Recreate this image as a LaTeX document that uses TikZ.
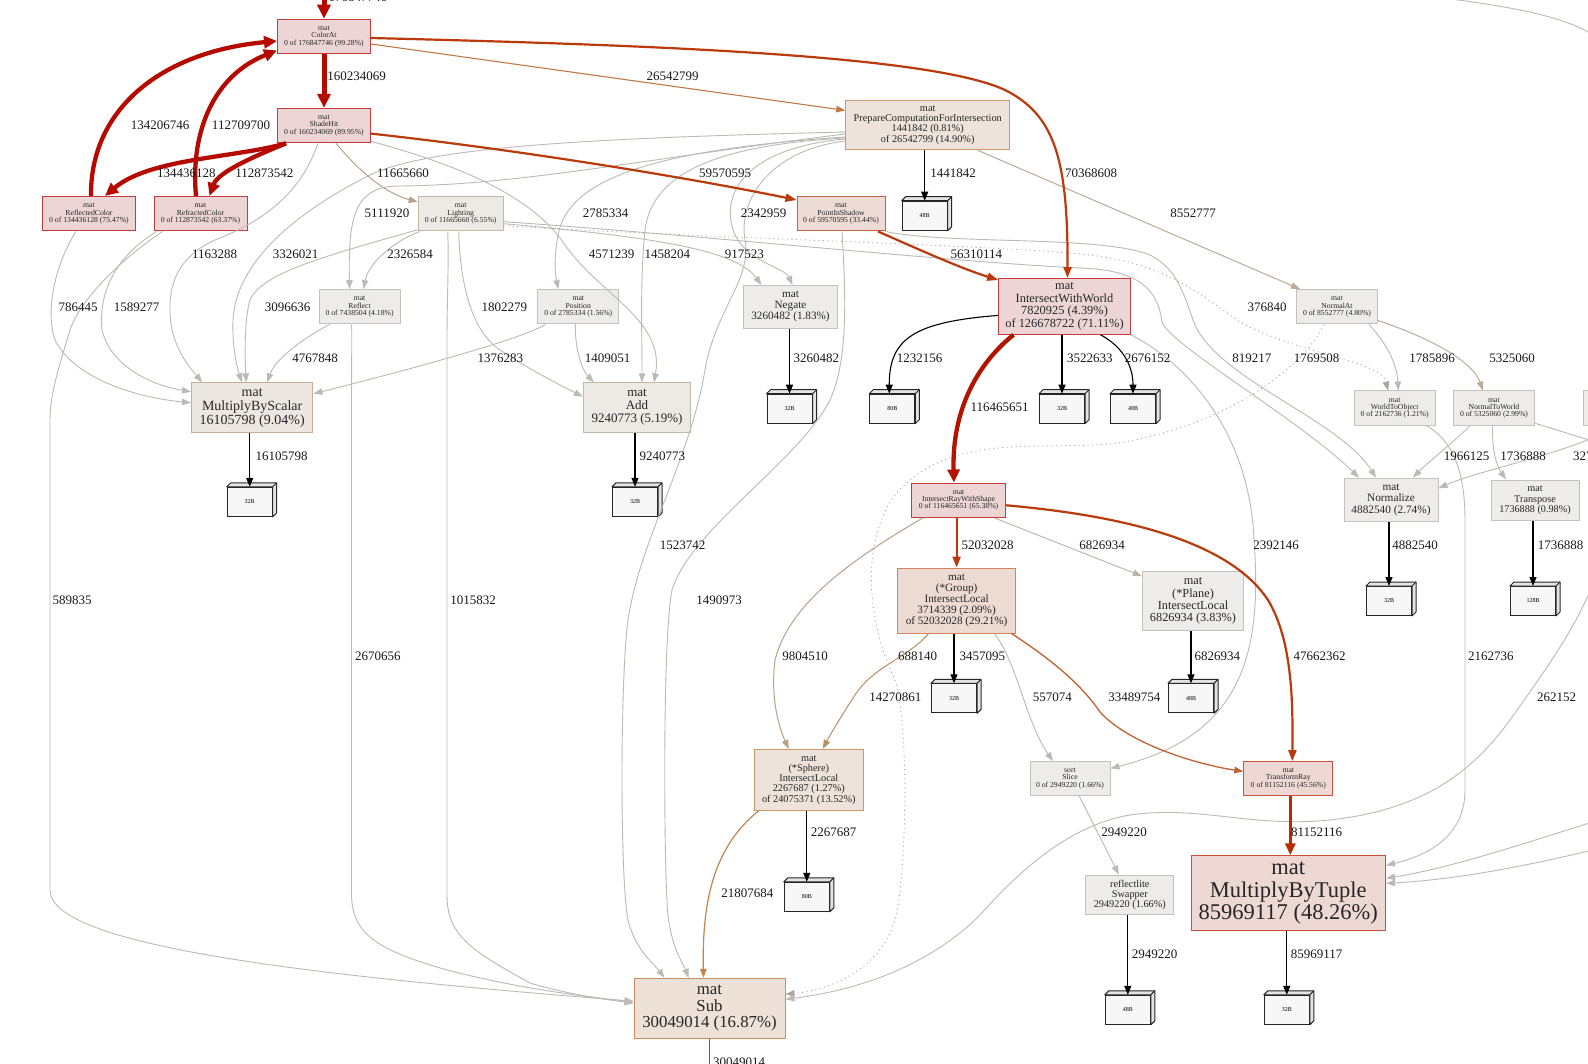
\documentclass[tikz,border=0pt]{standalone}
\usepackage{fontspec}
\setmainfont{Liberation Serif}
\usetikzlibrary{arrows.meta,calc}
\newcommand{\fsz}[2]{\fontsize{#1}{#2}\selectfont}
\definecolor{fR}{HTML}{EDD5D5}\definecolor{dR}{HTML}{C53A3A}
\definecolor{fO}{HTML}{EDD8D3}\definecolor{dO}{HTML}{C9513A}
\definecolor{fP}{HTML}{EDDBD5}\definecolor{dP}{HTML}{C9603F}
\definecolor{fGp}{HTML}{EDDBD3}\definecolor{dGp}{HTML}{D3835B}
\definecolor{fS}{HTML}{EDE1D8}\definecolor{dS}{HTML}{CB8B5A}
\definecolor{fC}{HTML}{EDE3DB}\definecolor{dC}{HTML}{CB9A68}
\definecolor{fT}{HTML}{EDE7E1}\definecolor{dT}{HTML}{C9AE92}
\definecolor{fL}{HTML}{EDEAE6}\definecolor{dL}{HTML}{C4B9A8}
\definecolor{fY}{HTML}{EDECEA}\definecolor{dY}{HTML}{C6C2BB}
\definecolor{memfill}{HTML}{F7F7F7}\definecolor{memside}{HTML}{E4E4E4}
\definecolor{cR0}{HTML}{B50A00}\definecolor{cR3}{HTML}{B31400}
\definecolor{cR4}{HTML}{B82C00}\definecolor{cR2}{HTML}{BA3A0C}
\definecolor{cO1}{HTML}{C17A45}\definecolor{cO2}{HTML}{C4602F}
\definecolor{cO3}{HTML}{C4834F}\definecolor{cT0}{HTML}{B98E62}
\definecolor{cT1}{HTML}{B9A186}\definecolor{cT2}{HTML}{BCAC95}
\definecolor{cT3}{HTML}{BCB3A5}\definecolor{cG}{HTML}{BDB9B3}
\definecolor{cD}{HTML}{A9A5A0}
\tikzset{
 nbox/.style={rectangle, align=center, inner sep=0pt, line width=1pt, text=black!85},
 nR/.style={nbox, fill=fR, draw=dR},
 nO/.style={nbox, fill=fO, draw=dO},
 nP/.style={nbox, fill=fP, draw=dP},
 nG/.style={nbox, fill=fGp, draw=dGp},
 nS/.style={nbox, fill=fS, draw=dS},
 nC/.style={nbox, fill=fC, draw=dC},
 nT/.style={nbox, fill=fT, draw=dT},
 nL/.style={nbox, fill=fL, draw=dL},
 nY/.style={nbox, fill=fY, draw=dY},
 memf/.style={rectangle, draw=black!85, fill=memfill, line width=1pt, minimum width=45pt, minimum height=29pt, inner sep=0pt, font={\fsz{6}{6}}},
 membd/.style={draw=black!85, fill=memside, line width=1pt, line join=round},
 lbl/.style={inner sep=0pt, font={\fsz{13}{13}}, text=black!90},
 tipS/.style={-{Triangle[length=9pt,width=6.5pt]}},
 eG/.style={draw=cG, line width=0.9pt, tipS},
 eGn/.style={draw=cG, line width=0.9pt},
 eDot/.style={draw=cD, line width=0.9pt, dash pattern=on 1pt off 3.5pt, tipS},
 eK/.style={draw=black, line width=1.1pt, -{Triangle[length=9pt,width=7pt]}},
 eKn/.style={draw=black!65, line width=1.1pt},
 eT0/.style={draw=cT0, line width=1pt, tipS},
 eT1/.style={draw=cT1, line width=1pt, tipS},
 eT2/.style={draw=cT2, line width=1pt, tipS},
 eT3/.style={draw=cT3, line width=0.9pt, tipS},
 eO1/.style={draw=cO1, line width=1.1pt, tipS},
 eO2/.style={draw=cO2, line width=1.3pt, tipS},
 eO3/.style={draw=cO3, line width=1.2pt, tipS},
 eR0/.style={draw=cR0, line width=5pt, -{Triangle[length=14pt,width=13pt]}},
 eR1/.style={draw=cR0, line width=4.3pt, -{Triangle[length=13pt,width=12pt]}},
 eR3/.style={draw=cR3, line width=4.3pt, -{Triangle[length=13pt,width=12pt]}},
 eR4/.style={draw=cR4, line width=3.5pt, -{Triangle[length=12pt,width=10pt]}},
 eR2/.style={draw=cR2, line width=2.2pt, -{Triangle[length=11pt,width=8pt]}},
}
\newcommand{\membx}[4]{%
  \node[memf] (#1) at ({#2-2},{#3+2}) {#4};
  \filldraw[membd] (#1.north west) -- ++(4pt,4pt) -- ([shift={(4pt,4pt)}]#1.north east) -- ([shift={(4pt,4pt)}]#1.south east) -- (#1.south east) -- (#1.north east) -- cycle;
  \draw[membd] (#1.north east) -- ++(4pt,4pt);
}
\begin{document}
\begin{tikzpicture}[x=1pt,y=-1pt]
\useasboundingbox (0,0) rectangle (1588,1064);
\fill[white] (0,0) rectangle (1588,1064);
\clip (0,0) rectangle (1588,1064);

% ---------------- nodes ----------------
\node[nR, minimum width=93, minimum height=34.5, font={\fsz{7.7}{7.3}}] (ColorAt) at (324,36.5) {mat\\ColorAt\\0 of 176847746 (99.28\%)};
\node[nR, minimum width=93, minimum height=34.5, font={\fsz{7.7}{7.3}}] (ShadeHit) at (324,125.6) {mat\\ShadeHit\\0 of 160234069 (89.95\%)};
\node[nR, minimum width=93, minimum height=34.5, font={\fsz{7.7}{7.3}}] (Reflected) at (89,213.7) {mat\\ReflectedColor\\0 of 134436128 (75.47\%)};
\node[nR, minimum width=93, minimum height=34.5, font={\fsz{7.7}{7.3}}] (Refracted) at (200.5,213.7) {mat\\RefractedColor\\0 of 112873542 (63.37\%)};
\node[nL, minimum width=85, minimum height=34.5, font={\fsz{7.7}{7.3}}] (Lighting) at (460.7,213.7) {mat\\Lighting\\0 of 11665660 (6.55\%)};
\node[nC, minimum width=164, minimum height=49.6, font={\fsz{10.3}{10.3}}] (Prepare) at (927.7,125) {mat\\PrepareComputationForIntersection\\1441842 (0.81\%)\\of 26542799 (14.90\%)};
\node[nP, minimum width=88, minimum height=34.5, font={\fsz{7.7}{7.3}}] (Shadow) at (841,213.7) {mat\\PointInShadow\\0 of 59570595 (33.44\%)};
\node[nY, minimum width=81, minimum height=34.4, font={\fsz{7.7}{7.3}}] (Reflect) at (359.6,306.8) {mat\\Reflect\\0 of 7438504 (4.18\%)};
\node[nY, minimum width=81, minimum height=34.4, font={\fsz{7.7}{7.3}}] (Position) at (578.3,306.8) {mat\\Position\\0 of 2785334 (1.56\%)};
\node[nY, minimum width=94, minimum height=42.5, font={\fsz{11.2}{11.2}}] (Negate) at (790.5,306.8) {mat\\Negate\\3260482 (1.83\%)};
\node[nR, minimum width=131.7, minimum height=55.7, font={\fsz{12.4}{12.4}}] (IWW) at (1064.5,306.4) {mat\\IntersectWithWorld\\7820925 (4.39\%)\\of 126678722 (71.11\%)};
\node[nY, minimum width=81, minimum height=34.4, font={\fsz{7.7}{7.3}}] (NormalAt) at (1337,306.8) {mat\\NormalAt\\0 of 8552777 (4.80\%)};
\node[nT, minimum width=121.5, minimum height=49.6, font={\fsz{14}{14}}] (MBS) at (252.2,407.7) {mat\\MultiplyByScalar\\16105798 (9.04\%)};
\node[nL, minimum width=107.3, minimum height=49.6, font={\fsz{13}{13}}] (Add) at (637,407.7) {mat\\Add\\9240773 (5.19\%)};
\node[nY, minimum width=81, minimum height=34.4, font={\fsz{7.7}{7.3}}] (WTO) at (1394.7,408.2) {mat\\WorldToObject\\0 of 2162736 (1.21\%)};
\node[nY, minimum width=81, minimum height=34.4, font={\fsz{7.7}{7.3}}] (NTW) at (1494,408.2) {mat\\NormalToWorld\\0 of 5325060 (2.99\%)};
\node[nY, minimum width=81, minimum height=34.4] (Partial) at (1623.5,408.2) {};
\node[nR, minimum width=94, minimum height=34.5, font={\fsz{7.7}{7.3}}] (IRWS) at (958.6,500.3) {mat\\IntersectRayWithShape\\0 of 116465651 (65.38\%)};
\node[nY, minimum width=94, minimum height=43.6, font={\fsz{11.3}{11.3}}] (Normalize) at (1391,500) {mat\\Normalize\\4882540 (2.74\%)};
\node[nY, minimum width=88, minimum height=40.5, font={\fsz{10.2}{10.2}}] (Transpose) at (1535,500.3) {mat\\Transpose\\1736888 (0.98\%)};
\node[nG, minimum width=118.5, minimum height=65, font={\fsz{11.2}{11.2}}] (Group) at (956.6,600.6) {mat\\(*Group)\\IntersectLocal\\3714339 (2.09\%)\\of 52032028 (29.21\%)};
\node[nY, minimum width=101.3, minimum height=59.8, font={\fsz{12.3}{12.3}}] (Plane) at (1193,601) {mat\\(*Plane)\\IntersectLocal\\6826934 (3.83\%)};
\node[nC, minimum width=108.4, minimum height=60.8, font={\fsz{10.3}{10.3}}] (Sphere) at (808.8,779.8) {mat\\(*Sphere)\\IntersectLocal\\2267687 (1.27\%)\\of 24075371 (13.52\%)};
\node[nY, minimum width=80, minimum height=33.4, font={\fsz{7.7}{7.3}}] (Slice) at (1070,778.4) {sort\\Slice\\0 of 2949220 (1.66\%)};
\node[nO, minimum width=89, minimum height=33.4, font={\fsz{7.7}{7.3}}] (TRay) at (1288.3,778.4) {mat\\TransformRay\\0 of 81152116 (45.56\%)};
\node[nY, minimum width=88, minimum height=39.5, font={\fsz{10.3}{10.3}}] (Swapper) at (1129.8,894.8) {reflectlite\\Swapper\\2949220 (1.66\%)};
\node[nO, minimum width=194.5, minimum height=75, font={\fsz{22.5}{22.5}}] (MBT) at (1288.3,893.3) {mat\\MultiplyByTuple\\85969117 (48.26\%)};
\node[nS, minimum width=151, minimum height=59.8, font={\fsz{16.8}{16.8}}] (Sub) at (709.5,1008.2) {mat\\Sub\\30049014 (16.87\%)};

\membx{B48a}{926.7}{213.7}{48B}
\membx{B32mbs}{251.7}{499.8}{32B}
\membx{B32add}{637}{499.8}{32B}
\membx{B32neg}{791.5}{406.7}{32B}
\membx{B80iww}{894.3}{406.7}{80B}
\membx{B32iww}{1064}{406.7}{32B}
\membx{B48iww}{1135}{406.7}{48B}
\membx{B32norm}{1391}{599}{32B}
\membx{B128}{1535}{599}{128B}
\membx{B32grp}{956}{696.3}{32B}
\membx{B48plane}{1193}{696.3}{48B}
\membx{B80sph}{808.8}{894.8}{80B}
\membx{B48swap}{1129.8}{1007.8}{48B}
\membx{B32mbt}{1288.8}{1007.8}{32B}

\coordinate (topsrc) at (324,-20);
\coordinate (subout) at (709.5,1085);
\coordinate (offR1) at (1605,445);
\coordinate (offR2) at (1605,432);
\coordinate (offR3) at (1605,818);
\coordinate (offR4) at (1605,847);
\coordinate (offR5) at (1610,530);
\coordinate (trA) at (1420,-5);
\coordinate (trB) at (1600,40);

% ---------------- gray / light edges (drawn first) ----------------
\draw[eGn] (trA) .. controls (1500,5) and (1570,15) .. (trB);
\draw[eG] ([xshift=-13pt]Reflected.south) .. controls (55,265) and (45,310) .. (55,340) .. controls (75,380) and (140,398) .. ([yshift=5pt]MBS.west);
\draw[eG] ([xshift=-44pt]Refracted.south) .. controls (118,255) and (98,290) .. (102,330) .. controls (110,365) and (150,385) .. ([yshift=16pt]MBS.west);
\draw[eG] ([xshift=-38pt]Refracted.south) .. controls (120,260) and (80,300) .. (70,330) .. controls (58,370) and (50,395) .. (50,420) -- (50,890) .. controls (50,945) and (300,975) .. ([yshift=7pt]Sub.west);
\draw[eG] ([xshift=-6pt]ShadeHit.south) .. controls (305,180) and (280,215) .. (215,240) .. controls (175,258) and (165,290) .. (172,330) .. controls (178,355) and (192,370) .. ([xshift=-50pt]MBS.north);
\draw[eG] ([yshift=-7pt]Prepare.west) .. controls (600,138) and (430,146) .. (370,175) .. controls (300,210) and (236,260) .. (233,320) .. controls (232,350) and (238,370) .. ([xshift=-10.5pt]MBS.north);
\draw[eG] ([yshift=-16pt]Lighting.west) .. controls (330,255) and (262,272) .. (250,300) .. controls (244,320) and (245,360) .. ([xshift=-6pt]MBS.north);
\draw[eG] ([xshift=2pt]Lighting.south west) .. controls (390,243) and (368,265) .. ([xshift=4pt]Reflect.north);
\draw[eG] ([yshift=-9pt]Prepare.west) .. controls (650,158) and (520,185) .. (400,186) .. controls (355,186) and (348,215) .. ([xshift=-10pt]Reflect.north);
\draw[eG] ([xshift=-30pt]Reflect.south) .. controls (300,340) and (275,360) .. ([xshift=15pt]MBS.north);
\draw[eG] ([xshift=-8pt]Reflect.south) .. controls (352,340) and (351.5,360) .. (351.5,400) -- (351.5,895) .. controls (352,935) and (380,950) .. (440,968) .. controls (520,990) and (600,998) .. ([yshift=6pt]Sub.west);
\draw[eG] ([xshift=-13pt]Lighting.south) .. controls (449,260) and (447,300) .. (447,340) -- (447,895) .. controls (447,935) and (470,950) .. (530,983) .. controls (570,995) and (610,1000) .. ([yshift=5pt]Sub.west);
\draw[eG] ([xshift=-2pt]Lighting.south) .. controls (460,280) and (470,330) .. (500,350) .. controls (530,370) and (560,385) .. ([yshift=11pt]Add.west);
\draw[eG] ([xshift=-33pt]Position.south) .. controls (520,340) and (400,372) .. ([yshift=14pt]MBS.east);
\draw[eG] ([xshift=-3pt]Position.south) .. controls (575,350) and (582,370) .. ([xshift=-43pt]Add.north);
\draw[eG] ([yshift=-12pt]Prepare.west) .. controls (650,150) and (568,180) .. (558,235) .. controls (553,262) and (556,278) .. ([xshift=-20pt]Position.north);
\draw[eG] ([yshift=-13pt]Prepare.west) .. controls (720,145) and (652,172) .. (645,230) .. controls (640,280) and (642,330) .. ([xshift=5pt]Add.north);
\draw[eG] ([yshift=2pt]ShadeHit.south east) .. controls (470,168) and (535,200) .. (565,245) .. controls (600,295) and (665,320) .. ([xshift=17pt]Add.north);
\draw[eG] ([yshift=-10pt]Lighting.east) .. controls (640,236) and (735,248) .. ([xshift=-29pt]Negate.north);
\draw[eG] ([yshift=-14pt]Prepare.west) .. controls (745,148) and (718,195) .. (735,235) .. controls (748,262) and (785,268) .. ([xshift=2pt]Negate.north);
\draw[eG] ([yshift=-16pt]Prepare.west) .. controls (770,150) and (738,200) .. (745,240) .. controls (752,280) and (715,310) .. (705,370) .. controls (690,460) and (640,540) .. (628,620) .. controls (620,680) and (620,880) .. (628,920) .. controls (635,950) and (655,965) .. ([xshift=-45pt]Sub.north);
\draw[eG] ([xshift=1pt]Shadow.south) .. controls (846,300) and (848,360) .. (830,400) .. controls (800,460) and (690,530) .. (672,590) .. controls (662,640) and (664,880) .. (668,915) .. controls (672,950) and (684,965) .. ([xshift=-21pt]Sub.north);
\draw[eG] ([yshift=-8pt]Lighting.east) .. controls (700,235) and (950,262) .. (1080,268) .. controls (1140,270) and (1158,290) .. (1162,322) .. controls (1170,345) and (1300,420) .. ([xshift=-32pt]Normalize.north);
\draw[eG] (Shadow.south east) .. controls (950,245) and (1100,235) .. (1150,255) .. controls (1180,270) and (1185,300) .. (1195,325) .. controls (1220,380) and (1340,420) .. ([xshift=-15pt]Normalize.north);
\draw[eDot] ([yshift=-12pt]Lighting.east) .. controls (700,238) and (1000,245) .. (1090,255) .. controls (1170,265) and (1200,295) .. (1240,322) .. controls (1300,355) and (1380,360) .. ([xshift=-6.5pt]WTO.north);
\draw[eDot] ([xshift=-13pt]NormalAt.south) .. controls (1305,365) and (1230,425) .. (1118,443) .. controls (1040,452) and (950,430) .. (895,495) .. controls (865,535) and (862,610) .. (895,680) .. controls (910,730) and (906,880) .. (895,920) .. controls (880,970) and (830,990) .. ([yshift=14pt]Sub.east);
\draw[eG] ([xshift=32pt]NormalAt.south) .. controls (1388,345) and (1397,365) .. ([xshift=3.5pt]WTO.north);
\draw[eT2] ([yshift=4pt]NormalAt.south east) .. controls (1450,345) and (1475,368) .. ([xshift=-11pt]NTW.north);
\draw[eG] ([xshift=-9pt]WTO.south east) .. controls (1452,440) and (1465,470) .. (1465,520) -- (1465,790) .. controls (1465,835) and (1430,855) .. ([yshift=28pt]MBT.east);
\draw[eG] ([xshift=-24pt]NTW.south) .. controls (1450,445) and (1425,465) .. ([xshift=22pt]Normalize.north);
\draw[eG] ([xshift=-1.5pt]NTW.south) .. controls (1492,455) and (1498,468) .. ([xshift=-29pt]Transpose.north);
\draw[eGn] ([yshift=-15pt]NTW.east) -- (offR1);
\draw[eG] (offR2) .. controls (1560,455) and (1480,470) .. ([yshift=11.7pt]Normalize.east);
\draw[eG] (offR3) .. controls (1520,845) and (1450,868) .. ([yshift=15pt]MBT.east);
\draw[eG] (offR4) .. controls (1520,868) and (1450,880) .. ([yshift=10pt]MBT.east);
\draw[eG] (offR5) .. controls (1595,600) and (1560,650) .. (1510,720) .. controls (1470,775) and (1420,810) .. (1330,820) .. controls (1250,828) and (1200,805) .. (1130,815) .. controls (1070,825) and (1020,870) .. (980,915) .. controls (930,965) and (860,990) .. ([yshift=9pt]Sub.east);
\draw[eG] (IWW.south east) .. controls (1195,368) and (1250,440) .. (1254,540) .. controls (1262,650) and (1245,735) .. ([yshift=10pt]Slice.east);
\draw[eG] ([xshift=38pt]Group.south) .. controls (1018,665) and (1025,720) .. ([xshift=-17pt]Slice.north);
\draw[eG] ([xshift=9pt]Slice.south) -- ([xshift=-11pt]Swapper.north);
\draw[eT3] ([xshift=36pt]IRWS.south) -- ([yshift=-5.5pt]Plane.north west);
\draw[eT1] ([xshift=-36pt]IRWS.south) .. controls (860,555) and (790,600) .. (775,660) .. controls (770,700) and (780,730) .. ([xshift=-20pt]Sphere.north);
\draw[eT0] ([xshift=-28pt]Group.south) .. controls (905,660) and (875,665) .. (855,695) .. controls (842,715) and (830,735) .. ([xshift=14pt]Sphere.north);
\draw[eT1] ([xshift=12pt]ShadeHit.south) .. controls (360,172) and (385,193) .. ([yshift=-6pt]Lighting.north west);
\draw[eT2] ([xshift=50pt]Prepare.south) -- ([xshift=4pt]NormalAt.north west);
\draw[eO1] ([yshift=-7.5pt]ColorAt.east) -- ([yshift=-10.7pt]Prepare.north west);
\draw[eO2] ([xshift=55pt]Group.south) .. controls (1060,665) and (1085,690) .. (1100,712) .. controls (1130,745) and (1200,765) .. ([yshift=7pt]TRay.west);
\draw[eO3] ([xshift=-50pt]Sphere.south) .. controls (712,848) and (702,905) .. ([xshift=-6pt]Sub.north);

% ---------------- memory edges ----------------
\draw[eK] ([xshift=-3pt]Prepare.south) -- (B48a.north);
\draw[eK] ([xshift=-2.5pt]MBS.south) -- (B32mbs.north);
\draw[eK] ([xshift=-2pt]Add.south) -- (B32add.north);
\draw[eK] ([xshift=-1pt]Negate.south) -- (B32neg.north);
\draw[eK] ([yshift=-9pt]IWW.west) .. controls (915,322) and (889,338) .. ([xshift=-3pt]B80iww.north);
\draw[eK] ([xshift=-2.5pt]IWW.south) -- (B32iww.north);
\draw[eK] ([xshift=36pt]IWW.south) .. controls (1125,348) and (1133,368) .. (B48iww.north);
\draw[eK] ([xshift=-2pt]Normalize.south) -- (B32norm.north);
\draw[eK] ([xshift=-2pt]Transpose.south) -- (B128.north);
\draw[eK] ([xshift=-2.6pt]Group.south) -- (B32grp.north);
\draw[eK] ([xshift=-2pt]Plane.south) -- (B48plane.north);
\draw[eK] ([xshift=-2pt]Sphere.south) -- (B80sph.north);
\draw[eK] ([xshift=-2pt]Swapper.south) -- (B48swap.north);
\draw[eK] ([xshift=-1.5pt]MBT.south) -- (B32mbt.north);
\draw[eKn] (Sub.south) -- (subout);

% ---------------- hot edges ----------------
\draw[eR2] ([yshift=-1.5pt]ColorAt.east) .. controls (650,45) and (930,55) .. (1005,90) .. controls (1055,115) and (1068,160) .. ([xshift=3pt]IWW.north);
\draw[eR2] ([yshift=-8pt]ShadeHit.east) .. controls (520,150) and (690,178) .. ([yshift=-4pt]Shadow.north west);
\draw[eR2] ([xshift=37pt]Shadow.south) .. controls (920,250) and (960,268) .. ([yshift=-2pt]IWW.north west);
\draw[eR2] ([xshift=-2pt]IRWS.south) -- (Group.north);
\draw[eR2] ([yshift=-5pt]IRWS.east) .. controls (1150,518) and (1235,550) .. (1268,600) .. controls (1292,640) and (1293,700) .. ([xshift=4pt]TRay.north);
\draw[eR4] ([xshift=2pt]TRay.south) -- ([xshift=2pt]MBT.north);
\draw[eR3] ([xshift=-51pt]IWW.south) .. controls (970,370) and (952,420) .. ([xshift=-4.6pt]IRWS.north);
\draw[eR1] ([xshift=-38pt]ShadeHit.south) .. controls (235,158) and (150,158) .. ([xshift=16pt]Reflected.north);
\draw[eR1] ([xshift=-38pt]ShadeHit.south) .. controls (255,156) and (218,172) .. ([xshift=9pt]Refracted.north);
\draw[eR1] ([xshift=2pt]Reflected.north) .. controls (90,110) and (160,52) .. ([yshift=-4.5pt]ColorAt.west);
\draw[eR1] ([xshift=-4.5pt]Refracted.north) .. controls (190,130) and (215,75) .. ([yshift=-14pt]ColorAt.west);
\draw[eR0] (topsrc) -- (ColorAt.north);
\draw[eR0] (ColorAt.south) -- (ShadeHit.north);

% ---------------- labels ----------------
\node[lbl, anchor=base west] (l01) at (328.3,1.5) {176847746};
\node[lbl] (l02) at (356.5,76) {160234069};
\node[lbl] (l03) at (672.5,76) {26542799};
\node[lbl] (l04) at (160,125.6) {134206746};
\node[lbl] (l05) at (241,125.6) {112709700};
\node[lbl] (l06) at (186.4,173) {134436128};
\node[lbl] (l07) at (264.3,173) {112873542};
\node[lbl] (l08) at (403,173) {11665660};
\node[lbl] (l09) at (725,173) {59570595};
\node[lbl] (l10) at (953,173) {1441842};
\node[lbl] (l11) at (1091,173) {70368608};
\node[lbl] (l12) at (1193,213.7) {8552777};
\node[lbl] (l13) at (387,213.7) {5111920};
\node[lbl] (l14) at (605.6,213.7) {2785334};
\node[lbl] (l15) at (763.6,213.7) {2342959};
\node[lbl] (l16) at (214.7,254) {1163288};
\node[lbl] (l17) at (295.7,254) {3326021};
\node[lbl] (l18) at (410,254) {2326584};
\node[lbl] (l19) at (611.7,254) {4571239};
\node[lbl] (l20) at (667.4,254) {1458204};
\node[lbl] (l21) at (744.4,254) {917523};
\node[lbl] (l22) at (976.3,254) {56310114};
\node[lbl] (l23) at (78,307) {786445};
\node[lbl] (l24) at (136.7,307) {1589277};
\node[lbl] (l25) at (287.6,307) {3096636};
\node[lbl] (l26) at (504.4,307) {1802279};
\node[lbl] (l27) at (1267,307) {376840};
\node[lbl] (l28) at (315,358.5) {4767848};
\node[lbl] (l29) at (500.3,358.5) {1376283};
\node[lbl] (l30) at (607.7,358.5) {1409051};
\node[lbl] (l31) at (816.3,358.5) {3260482};
\node[lbl] (l32) at (919.6,358.5) {1232156};
\node[lbl] (l33) at (1089.8,358.5) {3522633};
\node[lbl] (l34) at (1147.5,358.5) {2676152};
\node[lbl] (l35) at (1251.8,358.5) {819217};
\node[lbl] (l36) at (1316.6,358.5) {1769508};
\node[lbl] (l37) at (1432,358.5) {1785896};
\node[lbl] (l38) at (1512,358.5) {5325060};
\node[lbl] (l39) at (999.6,407) {116465651};
\node[lbl] (l40) at (281.6,455.8) {16105798};
\node[lbl] (l41) at (662.4,455.8) {9240773};
\node[lbl] (l42) at (1466.5,455.8) {1966125};
\node[lbl] (l43) at (1523,455.8) {1736888};
\node[lbl, anchor=west] (l44) at (1573,455.8) {327690};
\node[lbl] (l45) at (682.6,545) {1523742};
\node[lbl] (l46) at (987.5,545) {52032028};
\node[lbl] (l47) at (1102,545) {6826934};
\node[lbl] (l48) at (1276,545) {2392146};
\node[lbl] (l49) at (1415,545) {4882540};
\node[lbl] (l50) at (1560.7,545) {1736888};
\node[lbl] (l51) at (72,600.6) {589835};
\node[lbl] (l52) at (473,600.6) {1015832};
\node[lbl] (l53) at (719,600.6) {1490973};
\node[lbl] (l54) at (377.8,656.3) {2670656};
\node[lbl] (l55) at (805,656.3) {9804510};
\node[lbl] (l56) at (917.6,656.3) {688140};
\node[lbl] (l57) at (982.4,656.3) {3457095};
\node[lbl] (l58) at (1217.4,656.3) {6826934};
\node[lbl] (l59) at (1319.7,656.3) {47662362};
\node[lbl] (l60) at (1490.8,656.3) {2162736};
\node[lbl] (l61) at (895.3,696.8) {14270861};
\node[lbl] (l62) at (1052.3,696.8) {557074};
\node[lbl] (l63) at (1134.3,696.8) {33489754};
\node[lbl] (l64) at (1556.7,696.8) {262152};
\node[lbl] (l65) at (833.5,832.5) {2267687};
\node[lbl] (l66) at (1124,832.5) {2949220};
\node[lbl] (l67) at (1316.6,832.5) {81152116};
\node[lbl] (l68) at (747.4,893.3) {21807684};
\node[lbl] (l69) at (1154.6,954) {2949220};
\node[lbl] (l70) at (1316.6,954) {85969117};
\node[lbl, anchor=west] (l71) at (713,1062) {30049014};
\end{tikzpicture}
\end{document}
